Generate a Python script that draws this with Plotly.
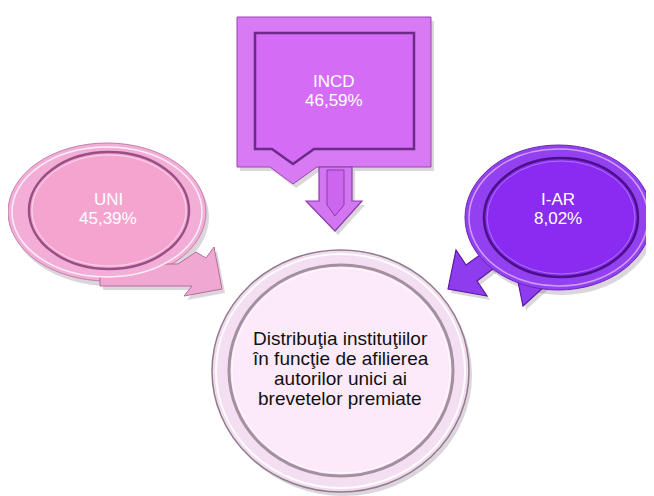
import plotly.graph_objects as go


# ---------------------------------
# DATA
# ---------------------------------

categories = ["UNI", "INCD", "I-AR"]
shares = [45.39, 46.59, 8.02]

centre_lines = [
    "Distribuţia instituţiilor",
    "în funcţie de afilierea",
    "autorilor unici ai",
    "brevetelor premiate"
]


# ---------------------------------
# STYLE
# ---------------------------------

FONT = "Liberation Sans, Arial, sans-serif"
SHADOW = "rgba(90,70,90,0.22)"

# the page body has an 8px margin, shift the view so pixels line up
PAGE_PAD = 8

# label anchor (centre of the two text lines) for each category
label_pos = {
    "UNI": (108, 209),
    "INCD": (334, 91),
    "I-AR": (558, 209),
}


def _poly(pts):
    return "M " + " L ".join(f"{x},{y}" for x, y in pts) + " Z"


def _shift(pts, dx=3, dy=4):
    return [(x + dx, y + dy) for x, y in pts]


def _ellipse(x0, y0, x1, y1, fill, line_color=None, width=0, dx=0, dy=0):
    return dict(
        type="circle", xref="x", yref="y",
        x0=x0 + dx, y0=y0 + dy, x1=x1 + dx, y1=y1 + dy,
        fillcolor=fill,
        line=dict(color=line_color or fill, width=width)
    )


def _path(pts, fill, line_color=None, width=0):
    return dict(
        type="path", xref="x", yref="y",
        path=_poly(pts),
        fillcolor=fill,
        line=dict(color=line_color or fill, width=width)
    )


shapes = []

# ---------------------------------
# UNI  (pink round callout, arrow to the right)
# ---------------------------------

uni_tail = [(100, 264), (178, 264), (196, 252), (206, 258), (214, 247),
            (222, 289), (184, 296), (192, 286), (100, 286)]

shapes += [
    _ellipse(8, 143, 206, 281, SHADOW, dx=3, dy=5),
    _path(_shift(uni_tail), SHADOW),
    _ellipse(8, 143, 206, 281, "#F2AED7", "#C27FAA", 1),
    _path(uni_tail, "#F0A8D3", "#B56C9B", 1),
    _ellipse(12, 147, 202, 277, "#F2AED7", "rgba(255,255,255,0.8)", 1.5),
    _ellipse(29, 152, 189, 269, "#F5A6D1", "#9A4F84", 2.5),
    _ellipse(32, 155, 186, 266, "#F5A4D0", "rgba(255,255,255,0.6)", 1),
]

# ---------------------------------
# INCD  (violet rectangular callout, arrow down)
# ---------------------------------

incd_box = [(237, 17), (431, 17), (431, 167), (317, 167), (293, 184),
            (270, 167), (237, 167)]
incd_inner = [(255, 33), (414, 33), (414, 149), (314, 149), (293, 164),
              (272, 149), (255, 149)]
incd_arrow = [(319, 167), (352, 167), (352, 201), (362, 201), (335, 231),
              (306, 201), (319, 201)]

shapes += [
    _path(_shift(incd_box), SHADOW),
    _path(_shift(incd_arrow), SHADOW),
    _path(incd_box, "#D77AF4", "#9A45B8", 1),
    _path(incd_arrow, "#D376F2", "#8E3BAE", 1.2),
    _path([(327, 170), (344, 170), (344, 205), (335, 216), (327, 205)],
          "#CC66EE", "#8E3BAE", 1),
    _path(incd_inner, "#D56CF6", "#6E2A88", 2.5),
]

# ---------------------------------
# I-AR  (purple round callout, arrow down-left)
# ---------------------------------

iar_arrow = [(448, 289), (456, 250), (466, 265), (512, 232), (522, 247),
             (477, 281), (487, 296)]
iar_tail = [(514, 262), (523, 306), (547, 284)]

shapes += [
    _ellipse(465, 145, 652, 290, SHADOW, dx=3, dy=5),
    _path(_shift(iar_arrow), SHADOW),
    _path(_shift(iar_tail), SHADOW),
    _path(iar_arrow, "#8F3CEE", "#5A1AA0", 1.2),
    _path(iar_tail, "#8F3CEE", "#5A1AA0", 1.2),
    _ellipse(465, 145, 652, 290, "#9340F0", "#6A25B8", 1),
    _ellipse(469, 149, 648, 286, "#9340F0", "rgba(230,200,255,0.7)", 1.5),
    _ellipse(484, 158, 638, 277, "#8A2CF2", "#4A1188", 2.5),
    _ellipse(487, 161, 635, 274, "#8A2BF2", "rgba(200,160,255,0.6)", 1),
]

# ---------------------------------
# CENTRE CIRCLE
# ---------------------------------

shapes += [
    _ellipse(212, 250, 469, 492, SHADOW, dx=3, dy=4),
    _ellipse(212, 250, 469, 492, "#F1D9EE", "#8F7B8D", 1.5),
    _ellipse(216, 254, 465, 488, "#F4DEF1", "rgba(255,255,255,0.9)", 2),
    _ellipse(229, 265, 453, 476, "#FCE8FA", "#A48F9F", 3),
    _ellipse(232, 268, 450, 473, "#FCE9FA", "rgba(255,255,255,0.8)", 1),
]


# ---------------------------------
# TEXT
# ---------------------------------

annotations = []

for name, value in zip(categories, shares):
    cx, cy = label_pos[name]
    pct = f"{value:.2f}".replace(".", ",") + "%"
    for i, line in enumerate([name, pct]):
        annotations.append(dict(
            x=cx, y=cy - 9.5 + i * 19,
            xref="x", yref="y",
            text=line,
            showarrow=False,
            font=dict(family=FONT, size=17, color="#ffffff")
        ))

for i, line in enumerate(centre_lines):
    annotations.append(dict(
        x=340, y=338 + i * 20,
        xref="x", yref="y",
        text=line,
        showarrow=False,
        font=dict(family=FONT, size=19, color="#111111")
    ))


# ---------------------------------
# FIGURE
# ---------------------------------

fig = go.Figure()

fig.update_layout(

    width=654,
    height=496,

    paper_bgcolor="#ffffff",
    plot_bgcolor="#ffffff",

    margin=dict(l=0, r=0, t=0, b=0),

    showlegend=False,

    shapes=shapes,
    annotations=annotations,

    xaxis=dict(
        range=[PAGE_PAD, 654 + PAGE_PAD],
        visible=False,
        fixedrange=True
    ),

    yaxis=dict(
        range=[496 + PAGE_PAD, PAGE_PAD],
        visible=False,
        fixedrange=True
    )
)

fig.write_html("out.html")
